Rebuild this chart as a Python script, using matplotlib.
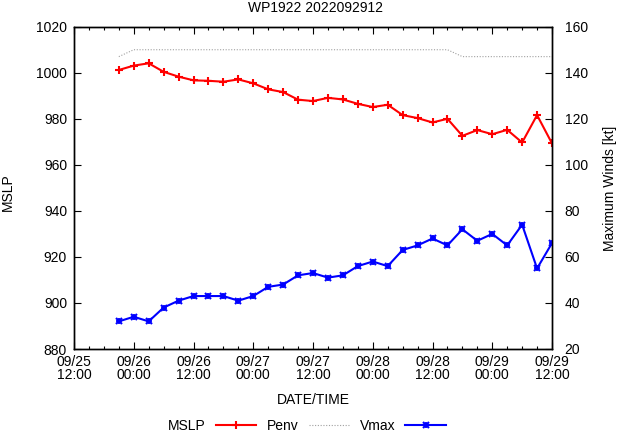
import numpy as np
import pandas as pd
import matplotlib
matplotlib.use('Agg')
import matplotlib.pyplot as plt
import matplotlib.dates as mdates

# data, 3-hourly from 09/25 21:00
times = pd.date_range('2022-09-25 21:00', periods=30, freq='3h')
mslp = [1001.2, 1003.1, 1004.1, 1000.4, 998.3, 996.7, 996.5, 996.1, 997.1, 995.4,
        992.8, 991.6, 988.3, 987.7, 989.1, 988.4, 986.5, 985.1, 986.1, 981.6,
        980.3, 978.4, 980.0, 972.6, 975.1, 973.3, 975.2, 969.7, 981.6, 969.3]
penv = [1007] + [1010] * 22 + [1007] * 7
vmax = [32, 34, 32, 38, 41, 43, 43, 43, 41, 43,
        47, 48, 52, 53, 51, 52, 56, 58, 56, 63,
        65, 68, 65, 72, 67, 70, 65, 74, 55, 66]

plt.rcParams['font.family'] = ['Liberation Sans', 'DejaVu Sans']
plt.rcParams['font.size'] = 10

W, H = 619, 432
fig = plt.figure(figsize=(W / 100, H / 100), dpi=100)
ax = fig.add_axes([74 / W, 1 - 349 / H, (552 - 74) / W, (349 - 26.7) / H])
ax2 = ax.twinx()

l1, = ax.plot(times, mslp, color='#ff0000', lw=1.5, marker='+', ms=5.5, mew=1.5, label='MSLP')
l2, = ax.plot(times, penv, color='#a0a0a0', lw=0.8, ls=(0, (1, 1.5)), label='Penv')
l3, = ax2.plot(times, vmax, color='#0000ff', lw=1.5, marker='x', ms=4.5, mew=1.5)
l3b, = ax2.plot(times, vmax, color='#0000ff', lw=0, marker='+', ms=5, mew=1.3)

ax.set_xlim(pd.Timestamp('2022-09-25 12:00'), pd.Timestamp('2022-09-29 12:00'))
ax.set_ylim(880, 1020)
ax.set_yticks(np.arange(880, 1021, 20))
ax2.set_ylim(20, 160)
ax2.set_yticks(np.arange(20, 161, 20))

ax.xaxis.set_major_locator(mdates.HourLocator(byhour=[0, 12]))
ax.xaxis.set_minor_locator(mdates.HourLocator(interval=3))
ax.xaxis.set_major_formatter(mdates.DateFormatter('%m/%d\n%H:%M'))

ax.tick_params(axis='x', which='both', direction='in', top=True, pad=4)
ax.tick_params(axis='x', which='major', length=5, width=0.8)
ax.tick_params(axis='x', which='minor', length=2.5, width=0.8)
ax.tick_params(axis='y', direction='in', left=True, right=False, length=5, width=0.8, pad=5)
ax2.tick_params(axis='y', direction='in', length=5, width=0.8, pad=9)
for a in (ax, ax2):
    for s in a.spines.values():
        s.set_linewidth(1.0)
for lab in ax.get_xticklabels():
    lab.set_linespacing(0.95)

fig.text(316 / W, 1 - 8 / H, 'WP1922 2022092912', ha='center', va='center')
fig.text(313 / W, 1 - 400 / H, 'DATE/TIME', ha='center', va='center')
fig.text(8 / W, 1 - 192 / H, 'MSLP', rotation=90, ha='center', va='center')
fig.text(610 / W, 1 - 188 / H, 'Maximum Winds [kt]', rotation=90, ha='center', va='center')

fig.legend(handles=[l1, l2, (l3, l3b)], labels=['MSLP', 'Penv', 'Vmax'],
           loc='center', bbox_to_anchor=(307 / W, 1 - 426 / H),
           ncol=3, frameon=False, markerfirst=False, handlelength=2.9,
           handletextpad=0.7, columnspacing=0.8, borderpad=0, borderaxespad=0)

fig.savefig('out.png', dpi=100)
